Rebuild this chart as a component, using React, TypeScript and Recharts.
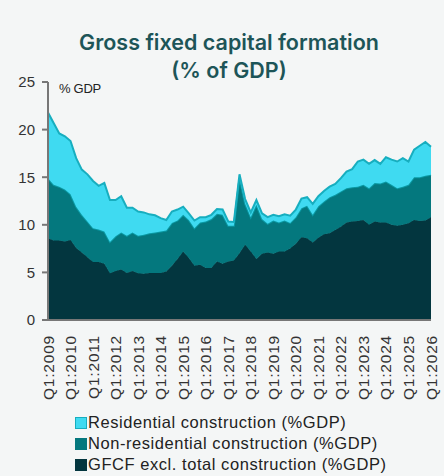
import React from "react";
import { Area, AreaChart, XAxis, YAxis } from "recharts";

// Quarterly shares of GDP, Q1 2009 .. Q1 2026 (69 quarters).
const years = [
  2009, 2010, 2011, 2012, 2013, 2014, 2015, 2016, 2017, 2018, 2019, 2020, 2021,
  2022, 2023, 2024, 2025, 2026,
];

const gfcfExcl = [
  8.6, 8.35, 8.35, 8.25, 8.4, 7.55, 7.1, 6.6, 6.1, 6.1, 5.9, 4.9, 5.15, 5.3,
  4.95, 5.15, 4.9, 4.85, 4.95, 4.95, 4.95, 5.1, 5.7, 6.4, 7.2, 6.5, 5.7, 5.8,
  5.45, 5.45, 6.15, 5.9, 6.15, 6.25, 7.0, 7.9, 7.2, 6.4, 6.95, 7.1, 6.95, 7.2,
  7.2, 7.5, 8.0, 8.7, 8.6, 8.15, 8.65, 9.0, 9.1, 9.45, 9.8, 10.25, 10.35, 10.4,
  10.5, 10.0, 10.35, 10.25, 10.25, 10.0, 9.9, 10.0, 10.15, 10.5, 10.4, 10.45,
  10.8,
];

const nonResidential = [
  6.3, 5.85, 5.65, 5.45, 4.8, 4.35, 3.95, 3.75, 3.55, 3.4, 3.4, 3.3, 3.65, 3.9,
  3.9, 4.05, 3.95, 4.1, 4.15, 4.25, 4.35, 4.3, 4.5, 4.05, 3.85, 4.0, 3.95, 4.45,
  4.9, 5.15, 5.0, 5.15, 3.75, 3.65, 7.9, 4.3, 3.6, 5.7, 3.65, 3.0, 3.5, 3.05,
  3.25, 2.7, 2.8, 3.05, 3.4, 2.9, 3.3, 3.45, 3.8, 3.7, 3.7, 3.6, 3.6, 3.6, 3.7,
  3.85, 4.05, 4.1, 4.3, 4.2, 3.95, 4.0, 4.05, 4.5, 4.6, 4.7, 4.45,
];

const residential = [
  6.9, 6.5, 5.6, 5.6, 5.6, 5.1, 4.75, 4.95, 4.95, 4.6, 5.1, 4.4, 3.8, 3.8,
  2.95, 2.6, 2.55, 2.35, 2.0, 1.8, 1.4, 1.1, 1.2, 1.15, 0.85, 0.7, 0.8, 0.55,
  0.45, 0.45, 0.5, 0.55, 0.45, 0.4, 0.4, 0.5, 0.5, 0.5, 0.6, 0.7, 0.6, 0.65,
  0.65, 0.75, 0.8, 1.0, 0.9, 1.15, 1.05, 1.1, 1.1, 1.15, 1.4, 1.75, 1.9, 2.65,
  2.65, 2.55, 2.4, 2.05, 2.55, 2.65, 2.8, 3.0, 2.45, 2.9, 3.3, 3.55, 2.95,
];

const yTicks = [0, 5, 10, 15, 20, 25];

const legendItems = [
  { label: "Residential construction (%GDP)", fill: "#3fdaf1", border: "#17aebf" },
  { label: "Non-residential construction (%GDP)", fill: "#04787e", border: "#04787e" },
  { label: "GFCF excl. total construction (%GDP)", fill: "#03363f", border: "#03363f" },
];

const data = gfcfExcl.map((g, i) => ({
  q: `Q${(i % 4) + 1}:${years[0] + Math.floor(i / 4)}`,
  gfcf: g,
  nonRes: nonResidential[i],
  res: residential[i],
}));

const q1Ticks = years.map((y) => `Q1:${y}`);

const XTick = (props: any) => {
  const { x, y, payload } = props;
  return (
    <text
      transform={`translate(${x}, ${y + 7}) rotate(-90)`}
      textAnchor="end"
      dominantBaseline="central"
      fontSize={15.5}
      letterSpacing={0.8}
      fill="#333"
      fontFamily="Liberation Sans, Arial, sans-serif"
    >
      {payload.value}
    </text>
  );
};

export default function App() {
  return (
    <div
      style={{
        position: "absolute",
        left: 0,
        top: 0,
        width: 444,
        height: 476,
        background: "#f4f6f6",
        fontFamily: "Liberation Sans, Arial, sans-serif",
      }}
    >
      <div
        style={{
          position: "absolute",
          left: 0,
          top: 28,
          width: 458,
          textAlign: "center",
          color: "#1d5558",
          fontFamily: "Inter, 'Open Sans', sans-serif",
          fontWeight: 600,
          fontSize: 21.5,
          lineHeight: "28px",
        }}
      >
        Gross fixed capital formation
        <br />
        (% of GDP)
      </div>
      <div
        style={{
          position: "absolute",
          left: 59,
          top: 81,
          fontSize: 13,
          color: "#222",
          letterSpacing: -0.3,
        }}
      >
        % GDP
      </div>
      <AreaChart
        width={444}
        height={476}
        data={data}
        margin={{ top: 82, right: 13, bottom: 90, left: 8 }}
        style={{ position: "absolute", left: 0, top: 0 }}
      >
        <XAxis
          dataKey="q"
          ticks={q1Ticks}
          interval={0}
          tick={<XTick />}
          tickLine={false}
          axisLine={{ stroke: "#777", strokeWidth: 2 }}
          height={66}
        />
        <YAxis
          domain={[0, 25]}
          ticks={yTicks}
          width={40}
          tick={{ fill: "#333", fontSize: 15 }}
          tickLine={{ stroke: "#777", strokeWidth: 2 }}
          tickSize={6}
          tickMargin={7}
          axisLine={{ stroke: "#777", strokeWidth: 2 }}
        />
        <Area
          type="linear"
          dataKey="gfcf"
          stackId="1"
          fill="#03363f"
          fillOpacity={1}
          stroke="#03363f"
          strokeWidth={1}
          isAnimationActive={false}
        />
        <Area
          type="linear"
          dataKey="nonRes"
          stackId="1"
          fill="#04787e"
          fillOpacity={1}
          stroke="#0a98a2"
          strokeWidth={2}
          isAnimationActive={false}
        />
        <Area
          type="linear"
          dataKey="res"
          stackId="1"
          fill="#3fdaf1"
          fillOpacity={1}
          stroke="#17aebf"
          strokeWidth={2}
          isAnimationActive={false}
        />
      </AreaChart>
      <div style={{ position: "absolute", left: 75, top: 412 }}>
        {legendItems.map((item) => (
          <div
            key={item.label}
            style={{
              display: "flex",
              alignItems: "center",
              height: 21,
              fontSize: 16.5,
              letterSpacing: 0.55,
              color: "#222",
            }}
          >
            <span
              style={{
                width: 10,
                height: 10,
                background: item.fill,
                border: `1px solid ${item.border}`,
                marginRight: 1,
                display: "inline-block",
              }}
            />
            {item.label}
          </div>
        ))}
      </div>
    </div>
  );
}
